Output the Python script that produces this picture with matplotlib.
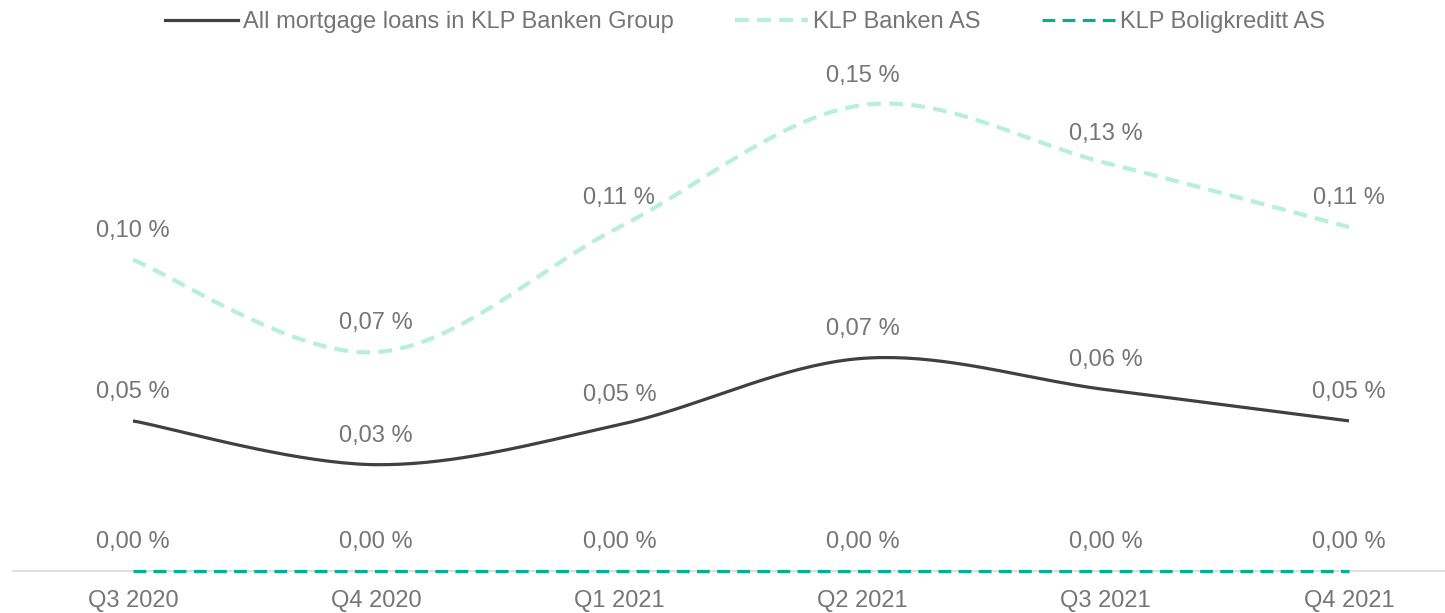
import numpy as np
import matplotlib.pyplot as plt
from matplotlib.lines import Line2D

plt.rcParams['font.family'] = ['Liberation Sans', 'DejaVu Sans']

quarters = ['Q3 2020', 'Q4 2020', 'Q1 2021', 'Q2 2021', 'Q3 2021', 'Q4 2021']
group = [0.048, 0.034, 0.0468, 0.068, 0.058, 0.048]
banken = [0.0995, 0.070, 0.110, 0.149, 0.1305, 0.110]
boligkreditt = [0.0, 0.0, 0.0, 0.0, 0.0, 0.0]

names = ['All mortgage loans in KLP Banken Group', 'KLP Banken AS', 'KLP Boligkreditt AS']
colors = ['#404040', '#b6f0d6', '#00b092']
TEXT = '#757575'


def smooth(x, y, n=40):
    """Excel-style smoothed line: cubic Bezier through the points."""
    p = np.column_stack([x, y]).astype(float)
    pad = np.vstack([p[0], p, p[-1]])
    out = []
    for i in range(len(p) - 1):
        p0, p1, p2, p3 = pad[i], pad[i + 1], pad[i + 2], pad[i + 3]
        c1 = p1 + (p2 - p0) / 6
        c2 = p2 - (p3 - p1) / 6
        t = np.linspace(0, 1, n)[:, None]
        seg = ((1 - t) ** 3) * p1 + 3 * ((1 - t) ** 2) * t * c1 + 3 * (1 - t) * t ** 2 * c2 + t ** 3 * p2
        out.append(seg if i == 0 else seg[1:])
    out = np.vstack(out)
    return out[:, 0], out[:, 1]


fig = plt.figure(figsize=(14.45, 6.13), dpi=100)
ax = fig.add_axes([13 / 1445, 42 / 613, 1 - 13 / 1445, 531 / 613])

x = np.arange(len(quarters))
series = [group, banken, boligkreditt]
styles = [dict(lw=2.3, ls='-'),
          dict(lw=3.0, ls=(0, (3.3, 2.0))),
          dict(lw=2.3, ls=(0, (4.0, 2.3)))]

for vals, c, st in zip(series, colors, styles):
    sx, sy = smooth(x, vals)
    ax.plot(sx, sy, color=c, lw=st['lw'], linestyle=st['ls'], dash_capstyle='butt',
            solid_capstyle='butt', zorder=3, clip_on=False)
    for xi, v in zip(x, vals):
        lab = f"{v:.2f} %".replace('.', ',')
        ax.annotate(lab, (xi, v), xytext=(0, 21), textcoords='offset points',
                    ha='center', va='center', fontsize=17, color=TEXT)

ax.set_xlim(-120 / 243.2, 5 + 96 / 243.2)
ax.set_ylim(0, 531 / 3127)
ax.set_xticks(x)
ax.set_xticklabels(quarters, fontsize=17, color=TEXT)
ax.tick_params(axis='x', length=0, pad=14)
ax.set_yticks([])
for s in ['top', 'right', 'left']:
    ax.spines[s].set_visible(False)
ax.spines['bottom'].set_color('#d9d9d9')
ax.spines['bottom'].set_linewidth(1.2)
ax.patch.set_alpha(0)

handles = [Line2D([], [], color=c, lw=st['lw'], linestyle=st['ls']) for c, st in zip(colors, styles)]
leg = fig.legend(handles, names, loc='center', ncol=3, bbox_to_anchor=(745 / 1445, 1 - 22 / 613),
                 frameon=False, fontsize=17, handlelength=3.1, handletextpad=0.2, columnspacing=2.6)
for t in leg.get_texts():
    t.set_color(TEXT)

fig.savefig('out.png', dpi=100)
